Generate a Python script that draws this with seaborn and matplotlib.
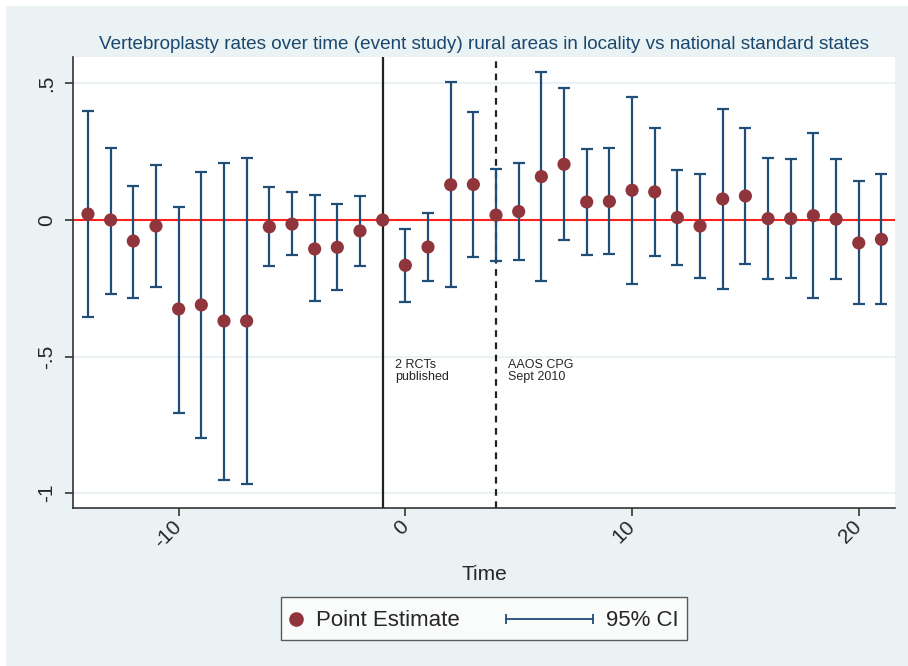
import numpy as np
import pandas as pd
import matplotlib
matplotlib.use("Agg")
import matplotlib.pyplot as plt
from matplotlib.lines import Line2D
from matplotlib.patches import Rectangle
from matplotlib.legend_handler import HandlerBase
import seaborn as sns

# ------------------------------------------------------------
# datos
# ------------------------------------------------------------
time = list(range(-14, 22))
estimate = [0.022, 0.0, -0.077, -0.022, -0.326, -0.311, -0.37, -0.37,
            -0.025, -0.015, -0.106, -0.10, -0.04, 0.0,
            -0.166, -0.099, 0.129, 0.13, 0.018, 0.031, 0.159, 0.204,
            0.066, 0.068, 0.109, 0.103, 0.009, -0.022, 0.077, 0.088,
            0.005, 0.005, 0.016, 0.003, -0.084, -0.071]
ci_upper = [0.40, 0.264, 0.125, 0.20, 0.048, 0.176, 0.21, 0.227,
            0.121, 0.103, 0.092, 0.059, 0.088, np.nan,
            -0.033, 0.026, 0.504, 0.397, 0.187, 0.208, 0.542, 0.482,
            0.26, 0.262, 0.45, 0.338, 0.183, 0.168, 0.405, 0.338,
            0.228, 0.225, 0.318, 0.222, 0.142, 0.167]
ci_lower = [-0.355, -0.27, -0.285, -0.245, -0.707, -0.80, -0.952, -0.967,
            -0.168, -0.13, -0.297, -0.256, -0.168, np.nan,
            -0.299, -0.222, -0.245, -0.134, -0.149, -0.147, -0.225, -0.073,
            -0.127, -0.125, -0.234, -0.133, -0.165, -0.211, -0.254, -0.162,
            -0.216, -0.211, -0.284, -0.215, -0.308, -0.308]

yticks = [0.5, 0, -0.5, -1]
ytick_labels = [".5", "0", "-.5", "-1"]
xticks = [-10, 0, 10, 20]

df = pd.DataFrame({"time": time, "est": estimate, "lo": ci_lower, "hi": ci_upper})

# ------------------------------------------------------------
# estilo
# ------------------------------------------------------------
sns.set_style("white")
plt.rcParams['font.family'] = ['Liberation Sans', 'DejaVu Sans']

bg = "#EAF2F3"
navy = "#1F4E79"
maroon = "#90353B"
dark = "#333333"

fig = plt.figure(figsize=(9.08, 6.66), dpi=100, facecolor=bg)
# borde blanco fino arriba y a la izquierda
fig.patches.append(Rectangle((0, 0), 6 / 908, 1, transform=fig.transFigure,
                             facecolor="white", edgecolor="none", zorder=-10))
fig.patches.append(Rectangle((0, 1 - 6 / 666), 1, 6 / 666, transform=fig.transFigure,
                             facecolor="white", edgecolor="none", zorder=-10))
ax = fig.add_axes([0.0804, 0.2372, 0.9053, 0.6772])
ax.set_facecolor("white")

# lineas de referencia
for yv in yticks:
    ax.axhline(yv, color=bg, lw=1.5, zorder=0)
ax.axhline(0, color="#FF2020", lw=1.5, zorder=1)
ax.axvline(-1, color="#222222", lw=1.6, zorder=1)
ax.axvline(4, color="#222222", lw=1.6, ls=(0, (3, 2.5)), zorder=1)

# intervalos de confianza
d_ci = df.dropna()
ax.errorbar(d_ci["time"], d_ci["est"],
            yerr=[d_ci["est"] - d_ci["lo"], d_ci["hi"] - d_ci["est"]],
            fmt="none", ecolor=navy, elinewidth=1.6, capsize=4.5, capthick=1.6, zorder=2)

# puntos
sns.scatterplot(data=df, x="time", y="est", ax=ax, color=maroon, s=90,
                edgecolor="none", zorder=3, legend=False)

ax.text(-0.45, -0.51, "2 RCTs\npublished", fontsize=9, va="top", ha="left", linespacing=1.0)
ax.text(4.55, -0.51, "AAOS CPG\nSept 2010", fontsize=9, va="top", ha="left", linespacing=1.0)

ax.set_xlim(-14.66, 21.6)
ax.set_ylim(-1.055, 0.597)
ax.set_yticks(yticks)
ax.set_yticklabels(ytick_labels, rotation=90, va="center", fontsize=15)
ax.set_xticks(xticks)
ax.set_xticklabels([str(x) for x in xticks], rotation=45, ha="right", va="center",
                   rotation_mode="anchor", fontsize=15)
ax.tick_params(axis="both", direction="out", length=6, width=1.2, color=dark, pad=6,
               bottom=True, left=True)
ax.tick_params(axis="x", pad=5)
ax.set_xlabel("Time", fontsize=15, labelpad=10)
ax.set_ylabel("")

for s in ["top", "right"]:
    ax.spines[s].set_visible(False)
for s in ["left", "bottom"]:
    ax.spines[s].set_color(dark)
    ax.spines[s].set_linewidth(1.2)

ax.set_title("Vertebroplasty rates over time (event study) rural areas in locality vs national standard states",
             fontsize=13.55, color="#1a476f", pad=6)


# leyenda: punto y barra horizontal con topes
class PointHandler(HandlerBase):
    def create_artists(self, legend, orig_handle, xdescent, ydescent, width, height, fontsize, trans):
        y = height / 2 - ydescent
        m = Line2D([-xdescent + width / 2], [y], ls="none", marker="o", color=maroon, markersize=9.5)
        m.set_transform(trans)
        return [m]


class CIHandler(HandlerBase):
    def create_artists(self, legend, orig_handle, xdescent, ydescent, width, height, fontsize, trans):
        y = height / 2 - ydescent
        x0, x1 = -xdescent - 53, -xdescent + width
        ln = Line2D([x0, x1], [y, y], color=navy, lw=1.3)
        caps = Line2D([x0, x1], [y, y], ls="none", marker="|", markersize=7,
                      markeredgewidth=1.3, color=navy)
        ln.set_transform(trans)
        caps.set_transform(trans)
        return [ln, caps]


h_pt = Line2D([], [])
h_ci = Line2D([], [])
leg = fig.legend([h_pt, h_ci], ["Point Estimate", "95% CI"], loc="center",
                 bbox_to_anchor=(0.533, 0.0713), ncol=2, fontsize=16, frameon=True,
                 fancybox=False, edgecolor=dark, handlelength=0.6, handleheight=1.5,
                 handletextpad=0.6, columnspacing=5.4, borderpad=0.35,
                 handler_map={h_pt: PointHandler(), h_ci: CIHandler()})
leg.get_frame().set_linewidth(1.0)

fig.savefig("out.png", dpi=100, facecolor=bg)
